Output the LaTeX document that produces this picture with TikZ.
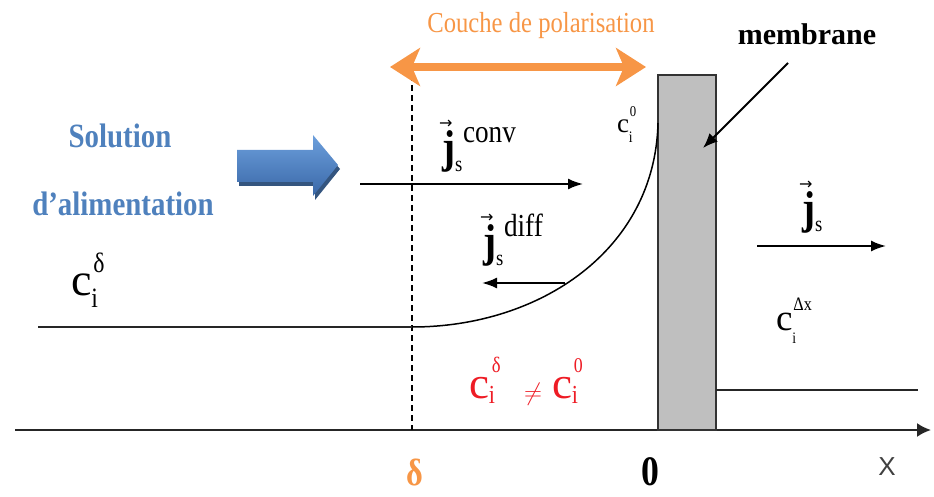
\documentclass[tikz,border=0pt]{standalone}
\usepackage{fontspec}
\setmainfont{Liberation Serif}[FakeStretch=0.85]
\newfontfamily\plainserif{Liberation Serif}
\newfontfamily\dv{DejaVu Sans}
\newfontfamily\lsans{Liberation Sans}
\usetikzlibrary{arrows.meta}
\definecolor{orng}{HTML}{F79646}
\definecolor{blu}{HTML}{4F81BD}
\definecolor{redc}{HTML}{EE1C25}
\definecolor{memgray}{HTML}{BFBFBF}
\definecolor{bluetop}{HTML}{6C9FDC}
\definecolor{bluebot}{HTML}{3A68A8}
\definecolor{blueshadow}{HTML}{34557F}
\newcommand\fs[1]{\fontsize{#1}{#1}\selectfont}
% c label: #1 c size, #2 i size, #3 i lowering, #4 sup text, #5 sup size, #6 sup raise, #7 kern before sup
\newcommand\clab[7]{{\plainserif\fs{#1}c}\makebox[0pt][l]{\raisebox{-#3pt}{\fs{#2}i}}\hspace{#7pt}\raisebox{#6pt}{\fs{#5}#4}}
% vector j with subscript s
\newcommand\jbase{\makebox[0pt][l]{\hspace{-3pt}\raisebox{34pt}{\dv\fs{16}→}}{\fs{46}\bfseries j}\makebox[0pt][l]{\raisebox{-9pt}{\fs{22}s}}}
% vector j with subscript s and superscript #1
\newcommand\jlab[1]{\jbase\hspace{8pt}\raisebox{20pt}{\fs{32}#1}}
\begin{document}
\begin{tikzpicture}[x=1pt,y=-1pt,
  every node/.style={inner sep=0pt,outer sep=0pt},
  txt/.style={anchor=base west},
  flux/.style={line width=2pt,-{Latex[length=15pt,width=11pt]}},
  conc/.style={line width=2.4pt,black!85},
  bluetxt/.style={anchor=base,text=blu,font=\fs{34}\bfseries}]
\useasboundingbox (0,0) rectangle (934,497);

% axis
\coordinate (ax0) at (15,430);
\coordinate (ax1) at (931,430);
\draw[line width=2pt,black!85,-{Latex[length=14pt,width=14pt]}] (ax0) -- (ax1);

% membrane
\node[draw=black!80,line width=1.5pt,fill=memgray,minimum width=58pt,minimum height=355pt,anchor=north west] (mem) at (658,75) {};

% dashed delta line
\coordinate (dtop) at (412,75);
\coordinate (dbot) at (412,430);
\draw[line width=1.2pt,dash pattern=on 6pt off 4pt] (dtop) -- (dbot);

% polarisation double arrow
\coordinate (polL) at (390,67);
\coordinate (polR) at (646,67);
\draw[orng,line width=8pt,{Stealth[length=30pt,width=38pt,inset=8pt]}-{Stealth[length=30pt,width=38pt,inset=8pt]}] (polL) -- (polR);
\node[anchor=base,text=orng,font=\fs{29}] (couche) at (541,33) {Couche de polarisation};

% membrane label and pointer
\node[anchor=base,font=\plainserif\fs{30}\bfseries] (membr) at (807,45) {membrane};
\coordinate (pA) at (788,63);
\coordinate (pB) at (703,148);
\draw[line width=2pt,-{Latex[length=15pt,width=12pt]}] (pA) -- (pB);

% solution
\node[bluetxt] (sol1) at (120,148) {Solution};
\node[bluetxt] (sol2) at (123,215) {d’alimentation};
\fill[blueshadow] (239,154) -- (315,154) -- (315,139) -- (340,169) -- (315,200) -- (315,186) -- (239,186) -- cycle;
\shade[top color=bluetop,bottom color=bluebot] (237,150) -- (313,150) -- (313,135) -- (338,165) -- (313,196) -- (313,182) -- (237,182) -- cycle;

% concentration profile
\coordinate (c0) at (38,327);
\coordinate (cd) at (412,327);
\coordinate (cm) at (658,123);
\draw[conc] (c0) -- (cd);
\draw[line width=1.5pt] (cd) .. controls (540,327) and (655,250) .. (cm);
\coordinate (r0) at (716,390);
\coordinate (r1) at (918,390);
\draw[conc] (r0) -- (r1);

% fluxes
\coordinate (cvA) at (360,184);
\coordinate (cvB) at (583,184);
\draw[flux] (cvA) -- (cvB);
\coordinate (dfA) at (565,283);
\coordinate (dfB) at (482,283);
\draw[flux] (dfA) -- (dfB);
\coordinate (jsA) at (757,246);
\coordinate (jsB) at (886,246);
\draw[flux] (jsA) -- (jsB);

\node[txt] (jconv) at (442,163) {\jlab{conv}};
\node[txt] (jdiff) at (483,256) {\jlab{diff}};
\node[txt] (jright) at (802,223) {\jbase};

% concentrations
\node[txt] (cdel) at (71,295) {\clab{46}{28}{12}{δ}{28}{23}{2}};
\node[txt] (czero) at (617,133) {\clab{27}{16}{10}{0}{15}{16}{1}};
\node[txt] (cdx) at (776,330) {\clab{37}{16}{13}{Δx}{19}{20}{1}};
\node[txt,text=redc] (eq1) at (469,398) {\clab{45}{26}{5}{δ}{22}{26}{3}};
\node[anchor=base,text=redc,font=\fs{30}] (neq) at (533,400) {$\neq$};
\node[txt,text=redc] (eq2) at (552,398) {\clab{45}{26}{5}{0}{21}{26}{2}};

% axis labels
\node[anchor=base,text=orng,font=\fs{38}\bfseries] (dl) at (415,485) {δ};
\node[anchor=base,font=\fs{42}\bfseries] (zl) at (650,485) {0};
\node[anchor=base,text=black!75,font=\lsans\fs{26}] (xl) at (887,475) {X};
\end{tikzpicture}
\end{document}
